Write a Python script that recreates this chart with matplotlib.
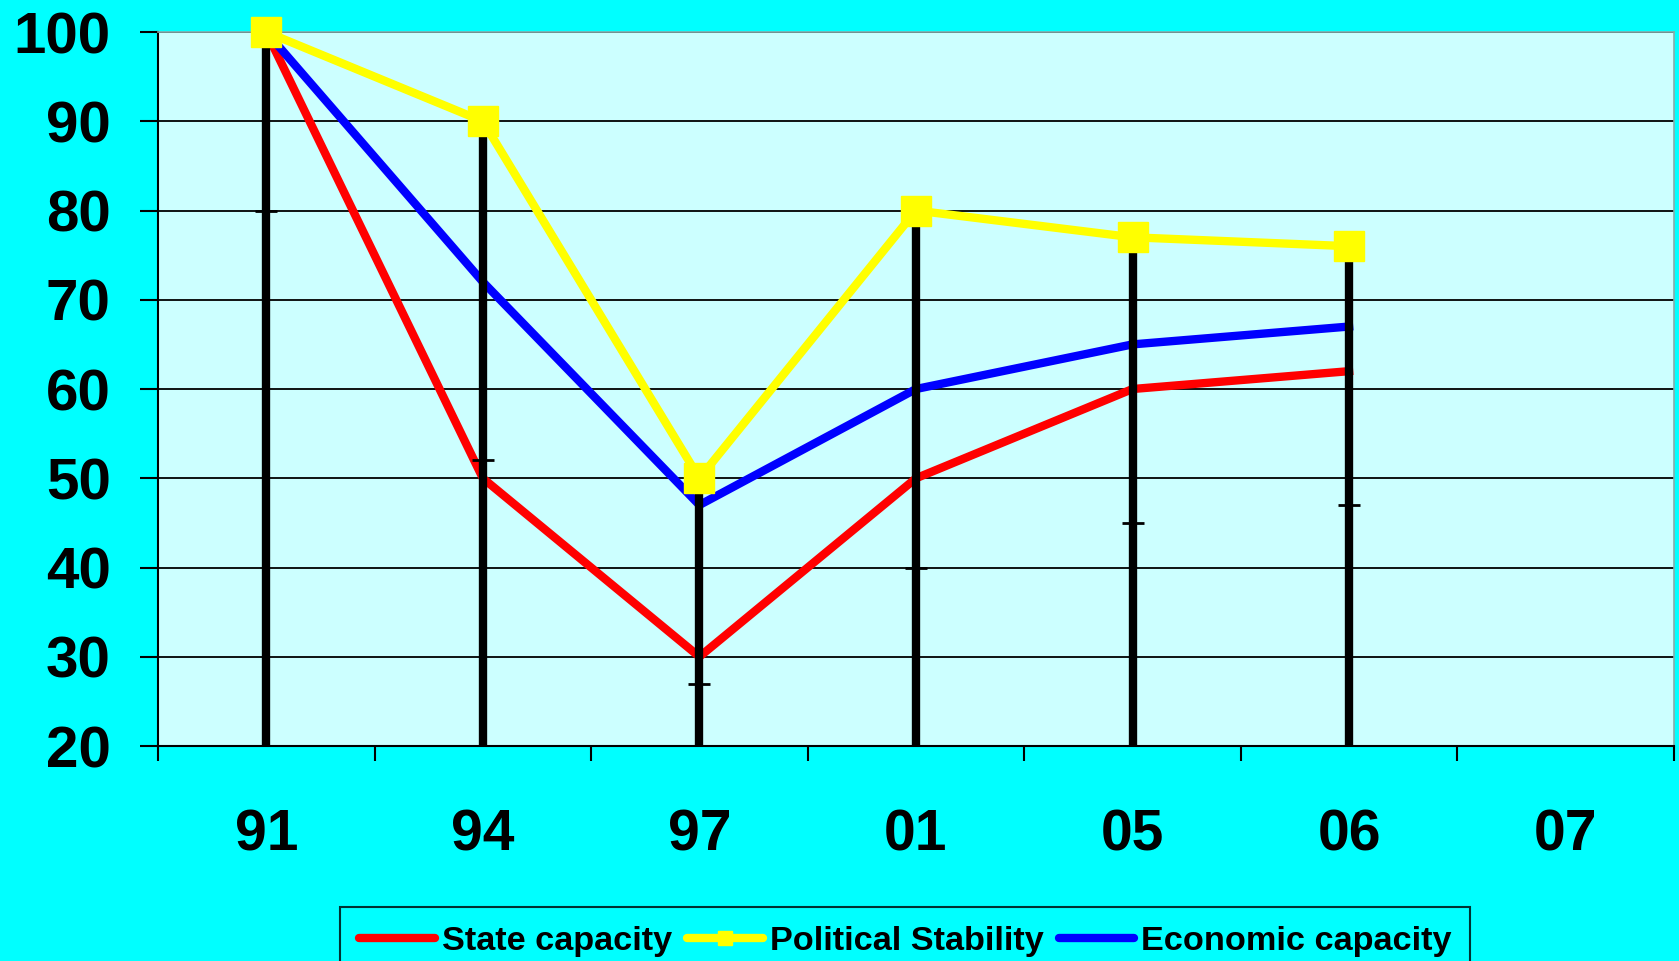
import matplotlib
matplotlib.use("Agg")
import matplotlib.pyplot as plt
import numpy as np

# data
years = ["91", "94", "97", "01", "05", "06", "07"]
state_cap = [100, 50, 30, 50, 60, 62]
pol_stab = [100, 90, 50, 80, 77, 76]
econ_cap = [100, 72, 47, 60, 65, 67]
close_marks = [80, 52, 27, 40, 45, 47]

plt.rcParams['font.family'] = ['Liberation Sans', 'DejaVu Sans']
plt.rcParams['font.weight'] = 'bold'

fig = plt.figure(figsize=(16.79, 9.61), dpi=100, facecolor='#00FFFF')
ax = fig.add_axes([0.0941, 0.2237, 0.9029, 0.743])
ax.set_facecolor('#CCFFFF')

x = np.arange(len(state_cap))

ax.plot(x, state_cap, color='#FF0000', lw=6, zorder=3, label='State capacity')
ax.plot(x, econ_cap, color='#0000FF', lw=6, zorder=3, label='Economic capacity')
ax.vlines(x, 20, pol_stab, color='black', lw=6, zorder=4)
ax.plot(x, close_marks, ls='none', marker='_', ms=16, mew=2, color='black', zorder=4)
ax.plot(x, pol_stab, color='#FFFF00', lw=6, marker='s', ms=21, mfc='#FFFF00', mec='#FFFF00',
        zorder=5, label='Political Stability', clip_on=False)

ax.set_xlim(-0.5, len(years) - 0.5)
ax.set_ylim(20, 100)
ax.set_yticks(range(20, 101, 10))
ax.yaxis.grid(True, color='black', lw=1.3)
ax.set_axisbelow(True)

ax.set_xticks(np.arange(len(years) + 1) - 0.5)
ax.set_xticklabels([])
ax.set_xticks(np.arange(len(years)), minor=True)
ax.set_xticklabels(years, minor=True)
ax.tick_params(axis='x', which='major', direction='out', length=11, width=1.5)
ax.tick_params(axis='x', which='minor', length=0, pad=45, labelsize=41)
ax.tick_params(axis='y', direction='out', length=13, width=1.5, pad=21, labelsize=42)

for s in ['left', 'bottom']:
    ax.spines[s].set_color('black')
    ax.spines[s].set_linewidth(1.5)
for s in ['top', 'right']:
    ax.spines[s].set_color('#88AAAA')
    ax.spines[s].set_linewidth(1.2)

h, l = ax.get_legend_handles_labels()
order = [0, 2, 1]
leg = fig.legend([h[i] for i in order], [l[i] for i in order], loc='upper center',
                 bbox_to_anchor=(0.5393, 0.0562), ncol=3, fontsize=24.7,
                 frameon=True, fancybox=False, edgecolor='black', facecolor='#00FFFF',
                 handlelength=2.2, handletextpad=0.2, columnspacing=0.45, borderpad=0.55,
                 borderaxespad=0, markerscale=0.5)
leg.get_frame().set_linewidth(1.5)
for line in leg.get_lines():
    line.set_solid_capstyle('round')

fig.savefig('out.png', dpi=100, facecolor=fig.get_facecolor())
